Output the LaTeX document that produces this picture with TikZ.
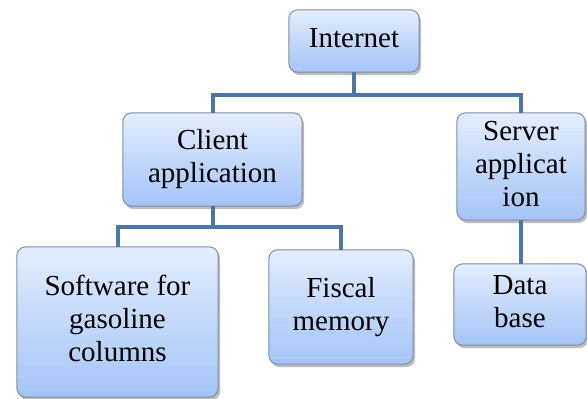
\documentclass[tikz,border=0pt]{standalone}
\usepackage{fontspec}
\setmainfont{Liberation Serif}
\newfontfamily\boxfont{Liberation Serif}
\usetikzlibrary{calc}
\definecolor{boxtop}{HTML}{E2ECFD}
\definecolor{boxbot}{HTML}{A6C5F7}
\definecolor{boxedge}{HTML}{7D8CA6}
\definecolor{linkcol}{HTML}{4A76A8}
\definecolor{shadowcol}{HTML}{BDBDBD}
\newcommand{\boxtext}[1]{{\boxfont\fontsize{29}{33}\selectfont\begin{tabular}{@{}c@{}}#1\end{tabular}}}
\tikzset{
  boxshape/.style={rectangle, inner sep=0pt},
  boxedgeline/.style={draw=boxedge, line width=1pt, rounded corners=9pt},
  boxshadow/.style={fill=shadowcol, rounded corners=9pt},
  txt/.style={inner sep=0pt},
  link/.style={draw=linkcol, line width=4pt}
}
\begin{document}
\begin{tikzpicture}[x=1pt,y=1pt]
\useasboundingbox (0,0) rectangle (587,399);
\node[boxshape, minimum width=130pt, minimum height=62pt] (inet) at (354,358) {};
\node[boxshape, minimum width=179pt, minimum height=93pt] (client) at (212.5,239.5) {};
\node[boxshape, minimum width=128pt, minimum height=107pt] (server) at (521,232.5) {};
\node[boxshape, minimum width=201pt, minimum height=150pt] (soft) at (117.5,77) {};
\node[boxshape, minimum width=144pt, minimum height=114pt] (fiscal) at (341,92) {};
\node[boxshape, minimum width=132pt, minimum height=81pt] (db) at (520,94.5) {};
\foreach \n in {inet,client,server,soft,fiscal,db} {
  \fill[boxshadow] ($(\n.south west)+(2,-3)$) rectangle ($(\n.north east)+(2,-3)$);
  \begin{scope}
    \clip[rounded corners=9pt] (\n.south west) rectangle (\n.north east);
    \foreach \k in {0,...,23} {
      \pgfmathsetmacro\pct{100*\k/23}
      \fill[boxtop!\pct!boxbot] ($(\n.south west)!{\k/24}!(\n.north west)$) rectangle ($(\n.south east)!{(\k+1.4)/24}!(\n.north east)$);
    }
  \end{scope}
  \draw[boxedgeline] (\n.south west) rectangle (\n.north east);
}
\coordinate (bus1) at (0,304);
\coordinate (bus2) at (0,172);
\draw[link] (inet.south) -- (inet.south |- bus1) -| (client.north);
\draw[link] (inet.south |- bus1) -| (server.north);
\draw[link] (client.south) -- (client.south |- bus2) -| (soft.north);
\draw[link] (client.south |- bus2) -| (fiscal.north);
\draw[link] (server.south) -- (db.north -| server.south);
\node[txt] (tinet) at (inet) {\boxtext{Internet}};
\node[txt] (tclient) at (client) {\boxtext{Client\\application}};
\node[txt] (tserver) at (server) {\boxtext{Server\\applicat\\ion}};
\node[txt] (tsoft) at (soft) {\boxtext{Software for\\gasoline\\columns}};
\node[txt] (tfiscal) at (fiscal) {\boxtext{Fiscal\\memory}};
\node[txt] (tdb) at (db) {\boxtext{Data\\base}};
\end{tikzpicture}
\end{document}
